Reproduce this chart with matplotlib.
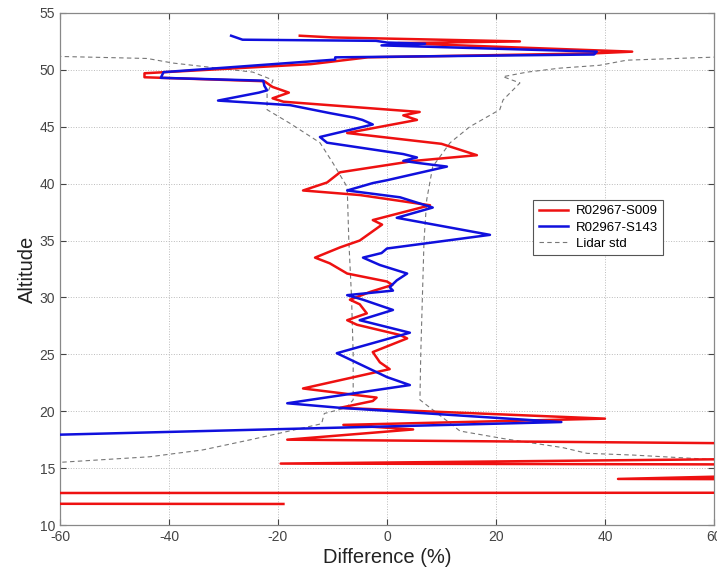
import matplotlib
matplotlib.use("Agg")
import matplotlib.pyplot as plt

plt.rcParams['font.family'] = ['Liberation Sans', 'DejaVu Sans']
plt.rcParams['axes.unicode_minus'] = False

# ---- data (difference in %, altitude in km) ----
s009_diff = [-16, -10, 24.4, 2, 45, 38, -3.5, -14, -44.5, -44.5, -22.5, -21, -18, -21, -19,
             6, 3, 5.5, -7.3, 10, 16.5, 5, -8.6, -11, -15.4, -5, 7.9, -2.6, -0.9, -5,
             -8.6, -13.2, -10.5, -7.3, 0, 1, -3, -6.8, -5, -3.7, -7.3, -5.5, 2.4, 3.7,
             -2.6, -1.3, 0.5, -15.4, -1.9, -2.6, -8.6, 40, -8, 4.8, -18.3, 150, 150,
             -19.5, 150, 42.4, 150, 150, -150, -150, -19]
s009_alt = [53.0, 52.85, 52.5, 52.35, 51.6, 51.45, 51.1, 50.5, 49.7, 49.35, 49.0, 48.5, 48.0, 47.5, 47.2,
            46.3, 46.0, 45.6, 44.45, 43.5, 42.5, 42.0, 41.0, 40.1, 39.4, 39.0, 38.1, 36.8, 36.4, 35.0,
            34.4, 33.5, 33.0, 32.1, 31.4, 31.1, 30.5, 29.8, 29.4, 28.6, 28.0, 27.6, 26.7, 26.4,
            25.2, 24.3, 23.7, 22.0, 21.2, 20.9, 20.3, 19.35, 18.8, 18.4, 17.5, 16.85, 16.2,
            15.4, 15.25, 14.05, 13.95, 12.85, 12.8, 11.9, 11.85]

s143_diff = [-28.6, -26.5, -2, 0, 7, -1, 38.5, 38, -9.5, -9.5, -41, -41.5, -22.7, -22.5, -22,
             -23.5, -31, -17.8, -10.5, -6, -4.5, -2.6, -12.3, -11, 3, 5.5, 3, 6, 11, 0, -2.6,
             -7.3, 2.4, 8.4, 1.8, 18.9, 0, -1, -4.4, -1.3, 3.7, 1.8, 0.5, 1.1, -7.3, -4.4,
             1.1, -5, 4.2, -9.2, 0, 4.2, -18.3, -8.6, 32, -80]
s143_alt = [53.0, 52.65, 52.55, 52.4, 52.3, 52.15, 51.6, 51.35, 51.1, 50.9, 49.8, 49.3, 49.05, 48.6, 48.2,
            48.0, 47.3, 46.9, 46.2, 45.8, 45.6, 45.2, 44.1, 43.6, 42.6, 42.3, 42.0, 41.8, 41.5, 40.3, 40.05,
            39.4, 38.8, 37.9, 37.0, 35.5, 34.3, 33.9, 33.5, 32.85, 32.1, 31.5, 30.9, 30.6, 30.2, 29.8,
            28.9, 28.0, 26.9, 25.1, 23.0, 22.3, 20.7, 20.3, 19.05, 17.7]

lidar_lo_diff = [-62, -44, -39.3, -24.6, -20.9, -22, -22, -17.8, -12.3, -9.9, -7.3, -7.0, -6.5,
                 -6.2, -6.2, -7.5, -11.5, -12, -25, -33.8, -43.5, -62]
lidar_lo_alt = [51.2, 51.0, 50.6, 49.8, 49.1, 47.9, 46.5, 45.3, 43.6, 41.8, 39.7, 35.0, 30.0,
                25.0, 21.0, 20.3, 19.8, 18.9, 17.5, 16.6, 16.0, 15.45]

lidar_hi_diff = [62, 44, 39, 31.7, 25.7, 21.3, 24.4, 21.3, 20.7, 15.2, 11.6, 8.4, 7.3, 6.8, 6.5,
                 6.2, 6.05, 13.4, 21.3, 32.3, 36.7, 45.1, 62]
lidar_hi_alt = [51.15, 50.85, 50.4, 50.15, 49.8, 49.4, 48.85, 47.35, 46.5, 45.0, 43.6, 41.5, 38.6, 35.0, 30.0,
                25.0, 21.0, 18.26, 17.6, 16.8, 16.3, 16.15, 15.7]

labels = ['R02967-S009', 'R02967-S143', 'Lidar std']
x_ticks = [-60, -40, -20, 0, 20, 40, 60]
y_ticks = [10, 15, 20, 25, 30, 35, 40, 45, 50, 55]

fig = plt.figure(figsize=(7.17, 5.76), dpi=100)
ax = fig.add_axes([0.0837, 0.0885, 0.912, 0.889])

ax.plot(s009_diff, s009_alt, color='#ee1111', lw=1.8, label=labels[0], zorder=3)
ax.plot(s143_diff, s143_alt, color='#1010dd', lw=1.8, label=labels[1], zorder=4)
ax.plot(lidar_lo_diff, lidar_lo_alt, color='#777777', lw=0.8, ls=(0, (4, 3)), label=labels[2], zorder=2)
ax.plot(lidar_hi_diff, lidar_hi_alt, color='#777777', lw=0.8, ls=(0, (4, 3)), zorder=2)

ax.set_xlim(-60, 60)
ax.set_ylim(10, 55)
ax.set_xticks(x_ticks)
ax.set_yticks(y_ticks)
ax.tick_params(direction='in', top=True, right=True, labelsize=10, colors='#444444', length=4)
ax.grid(True, ls=':', color='#bbbbbb', lw=0.7)
for s in ax.spines.values():
    s.set_color('#888888')
    s.set_linewidth(0.9)

ax.set_xlabel('Difference (%)', fontsize=14.5, color='#222222', labelpad=3)
ax.set_ylabel('Altitude', fontsize=14.5, color='#222222', labelpad=2)

leg = ax.legend(loc='upper left', bbox_to_anchor=(0.714, 0.648), fontsize=9.5, fancybox=False,
                framealpha=1, edgecolor='#555555', handlelength=2.2, borderpad=0.4,
                labelspacing=0.3, handletextpad=0.6)
leg.get_frame().set_linewidth(0.8)

fig.savefig('out.png', dpi=100)
